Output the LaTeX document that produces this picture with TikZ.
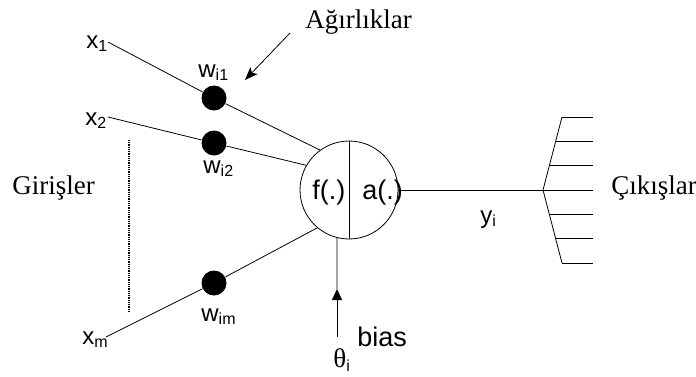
\documentclass[tikz,border=0pt]{standalone}
\usepackage{fontspec}
\setmainfont{Liberation Serif}
\setsansfont{Liberation Sans}
\usetikzlibrary{arrows.meta}
\newcommand{\altind}[2][16]{\raisebox{-0.15em}{\fontsize{#1}{#1}\selectfont #2}}

\begin{document}
\begin{tikzpicture}[x=1pt, y=-1pt, line width=0.8pt,
  tr/.style={font=\rmfamily\fontsize{27}{30}\selectfont, inner sep=0pt, anchor=base west},
  ar/.style={font=\sffamily\fontsize{27}{30}\selectfont, inner sep=0pt, anchor=base west},
  xg/.style={font=\sffamily\fontsize{24}{28}\selectfont, inner sep=0pt, anchor=base west},
  wg/.style={font=\sffamily\fontsize{24}{28}\selectfont, inner sep=0pt, anchor=base west},
  nokta/.style={circle, fill=black, minimum size=25pt, inner sep=0pt},
]
  \useasboundingbox (0,0) rectangle (696,376);

  % nöron: merkez (349,190), yarıçap 49
  \node[circle, draw, minimum size=98pt, inner sep=0pt] (n) at (349,190) {};
  \draw (n.north) -- (n.south);
  \node[ar] (f) at (312,199) {f(.)};
  \node[ar] (a) at (362,199) {a(.)};

  % girişler ve ağırlıklar
  \node[xg] (x1) at (86,48) {x\altind{1}};
  \node[xg] (x2) at (85,125) {x\altind{2}};
  \node[xg] (xm) at (82,344) {x\altind{m}};
  \coordinate (x1s) at (108,42);
  \coordinate (x2s) at (108,117);
  \coordinate (xms) at (106,337);
  \node[nokta] (w1) at (214,98) {};
  \node[nokta] (w2) at (214,143) {};
  \node[nokta] (wm) at (214,283) {};
  \draw (x1s) -- (w1) -- (n.126);
  \draw (x2s) -- (w2) -- (n.150);
  \draw (xms) -- (wm) -- (n.230);
  \node[wg] (lw1) at (198,77) {w\altind{i1}};
  \node[wg] (lw2) at (203,173) {w\altind{i2}};
  \node[wg] (lwm) at (201,321) {w\altind{im}};

  \coordinate (d1) at (129,140);
  \coordinate (d2) at (129,312);
  \draw[line width=1.1pt, dash pattern=on 1pt off 0.8pt] (d1) -- (d2);
  \node[tr] (gir) at (12,194) {Girişler};

  \node[tr] (agr) at (305,28) {Ağırlıklar};
  \coordinate (ok1) at (290,33);
  \coordinate (ok2) at (245,80);
  \draw[-{Stealth[length=13pt, width=10pt, inset=3pt]}] (ok1) -- (ok2);

  % bias
  \coordinate (b0) at (337,337);
  \coordinate (bm) at (337,289);
  \draw[-{Triangle[length=11pt, width=10pt]}] (b0) -- (bm);
  \draw (bm) -- (n.256);
  \node[ar] (bias) at (357,346) {bias};
  \node[ar] (teta) at (333,367) {{\rmfamily θ}\altind{i}};

  % çıkış
  \coordinate (dal) at (543,190);
  \coordinate (ust) at (562,117);
  \coordinate (alt) at (562,263);
  \draw (n.east) -- (dal);
  \draw (ust) -- (dal) -- (alt);
  \foreach \k in {-3,...,3} {
    \pgfmathsetmacro{\yy}{190+24.33*\k}
    \pgfmathsetmacro{\xx}{543+19*abs(\k)/3}
    \draw (\xx,\yy) -- (593,\yy);
  }
  \node[xg] (y) at (480,223) {y\altind{i}};
  \node[tr] (cik) at (611,194) {Çıkışlar};
\end{tikzpicture}
\end{document}
